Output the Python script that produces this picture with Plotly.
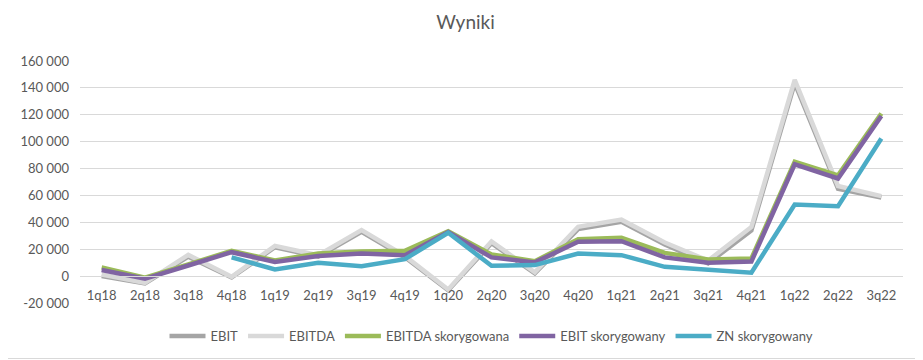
import plotly.graph_objects as go

categories = ["1q18","2q18","3q18","4q18","1q19","2q19","3q19","4q19","1q20","2q20",
              "3q20","4q20","1q21","2q21","3q21","4q21","1q22","2q22","3q22"]

ebit = [0, -5500, 14500, -1000, 21500, 14500, 33000, 14000, -10500, 24500,
        2000, 35000, 40500, 23500, 9500, 34000, 143500, 65000, 58500]
ebitda = [1200, -5000, 15800, -500, 22500, 15500, 34200, 15000, -10000, 25800,
          2800, 36700, 42000, 25000, 11500, 36500, 146000, 67000, 59500]
ebitda_adj = [6500, -1200, 8700, 18800, 11600, 16800, 18300, 18800, 33400, 16100,
              11100, 27500, 28500, 17300, 12400, 13100, 85000, 75000, 121000]
ebit_adj = [4500, -2000, 7900, 17800, 10600, 14900, 16800, 15600, 32700, 13900,
            10200, 25500, 26000, 13900, 9900, 10900, 83200, 72600, 119100]
zn_adj = [None, None, None, 13900, 5000, 9900, 7400, 12600, 32200, 7700,
          8200, 16800, 15600, 6900, 5000, 2500, 53300, 52000, 102300]

y_tickvals = [-20000, 0, 20000, 40000, 60000, 80000, 100000, 120000, 140000, 160000]
y_ticktext = ["-20 000", "0", "20 000", "40 000", "60 000", "80 000",
              "100 000", "120 000", "140 000", "160 000"]

series = [
    ("EBIT", ebit, "#A5A5A5"),
    ("EBITDA", ebitda, "#D9D9D9"),
    ("EBITDA skorygowana", ebitda_adj, "#9BBB59"),
    ("EBIT skorygowany", ebit_adj, "#8064A2"),
    ("ZN skorygowany", zn_adj, "#4BACC6"),
]

fig = go.Figure()
for name, vals, color in series:
    fig.add_trace(go.Scatter(
        x=categories, y=vals, name=name, mode="lines",
        line=dict(color=color, width=4.5),
        connectgaps=False,
    ))

W, H = 915, 370
L, R, T, B = 65, 20, 53, 75  # plot area: x 65..895, y 53..295 (figure coords)
ph = H - T - B
pw = W - L - R

ymin, ymax = -20000, 160000
fig.update_layout(
    width=W, height=H,
    margin=dict(l=L, r=R, t=T, b=B),
    paper_bgcolor="white", plot_bgcolor="white",
    font=dict(family="Lato, Open Sans, sans-serif", size=13, color="#595959"),
    title=dict(text="Wyniki", x=0.5, xanchor="center", y=1 - 14 / H, yanchor="middle",
               font=dict(size=19, color="#595959")),
    showlegend=True,
    legend=dict(orientation="h", x=0.5, xanchor="center", y=-(313 - 295) / ph, yanchor="top",
                font=dict(size=13, color="#595959"), itemwidth=36),
    xaxis=dict(type="category", range=[-0.5, 18.5], anchor="free",
               position=(0 - ymin) / (ymax - ymin),
               showgrid=False, showline=True, linecolor="#D9D9D9", linewidth=1,
               ticks="", tickfont=dict(size=13, color="#595959"),
               ticklabelstandoff=7, fixedrange=True),
    yaxis=dict(range=[ymin, ymax], tickvals=y_tickvals, ticktext=y_ticktext,
               showgrid=True, gridcolor="#D9D9D9", gridwidth=1, zeroline=False,
               showline=False, ticks="", ticklabelstandoff=10,
               tickfont=dict(size=13, color="#595959"), fixedrange=True),
)

# outer chart border (right and bottom edges visible within the figure)
fig.add_shape(type="rect", xref="paper", yref="paper",
              x0=(-20 - L) / pw, x1=(909.5 - L) / pw, y0=(295 - 350.5) / ph, y1=(295 + 20) / ph,
              line=dict(color="#D9D9D9", width=1), fillcolor="rgba(0,0,0,0)", layer="below")

fig.write_html("out.html")
